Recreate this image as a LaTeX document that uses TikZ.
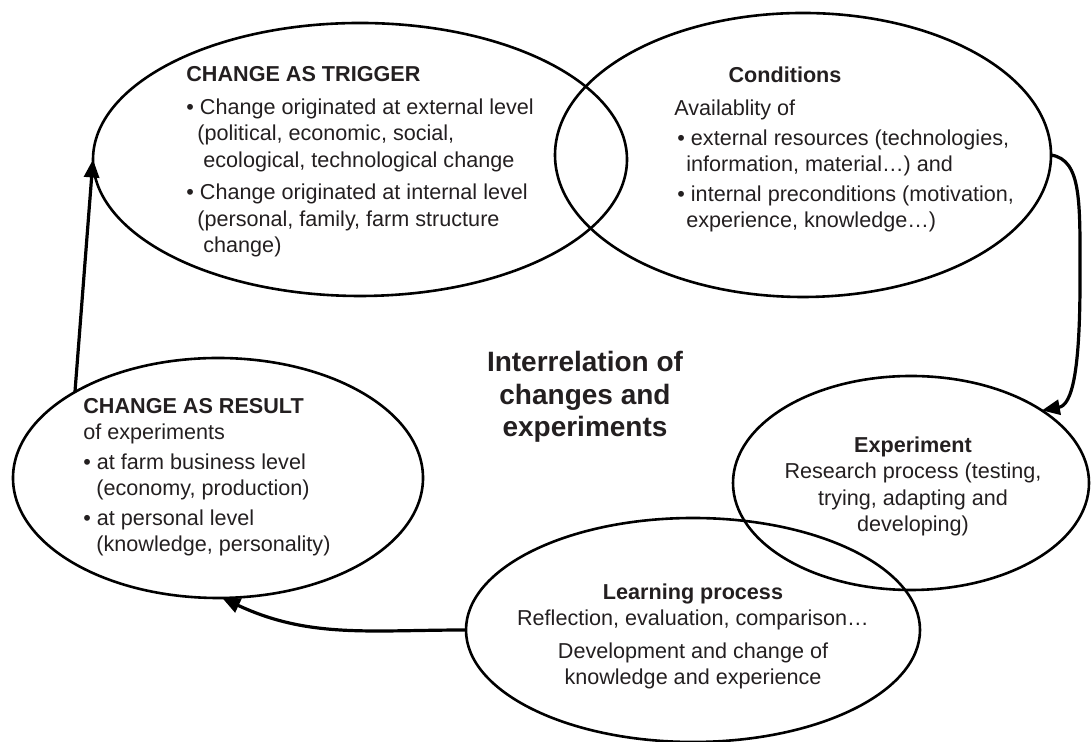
\documentclass[tikz,border=0pt]{standalone}
\usepackage{fontspec}
\setmainfont{Liberation Sans}
\usepackage{xcolor}
\usetikzlibrary{arrows.meta, shapes.geometric}

\definecolor{inktxt}{HTML}{231F20}
\newcommand{\bul}{\textbullet\ }

\tikzset{
	bubble/.style = {draw, ellipse, line width = 1.3pt, inner sep = 0pt, outer sep = 0pt},
	txt/.style = {font = \fontsize{10.8pt}{13.25pt}\selectfont, text = inktxt, inner sep = 0pt},
	flow/.style = {-{Triangle[length = 9pt, width = 7.5pt]}, line width = 1.6pt},
}

\begin{document}
\begin{tikzpicture}[x = 0.5pt, y = 0.5pt]
		\useasboundingbox (0,0) rectangle (1091,742);
		\node[bubble, minimum width = 267pt, minimum height = 136.5pt] (trigger) at (360,582.5) {};
		\node[bubble, minimum width = 248pt, minimum height = 142pt] (cond) at (803,587) {};
		\node[bubble, minimum width = 205pt, minimum height = 120pt] (result) at (218,264) {};
		\node[bubble, minimum width = 178pt, minimum height = 107pt] (exper) at (911,259) {};
		\node[bubble, minimum width = 227pt, minimum height = 112pt] (learn) at (693,112) {};
		% text blocks hang on the baseline of their last line
		\node[txt, align = left, anchor = base west] (triggertxt) at (186,489) {{\bfseries CHANGE AS TRIGGER}\\[3.25pt]
			\bul Change originated at external level\\
			\hspace*{5.5pt}(political, economic, social,\\
			\hspace*{8.5pt}ecological, technological change\\[3pt]
			\bul Change originated at internal level\\
			\hspace*{5.5pt}(personal, family, farm structure\\
			\hspace*{8.5pt}change)};
		\node[txt, anchor = base, font = \fontsize{10.8pt}{13.25pt}\selectfont\bfseries] (condhead) at (785,659) {Conditions};
		\node[txt, align = left, anchor = base west] (condtxt) at (674,514) {Availablity of\\[1.5pt]
			\hspace*{1.5pt}\bul external resources (technologies,\\
			\hspace*{6pt}information, material…) and\\[1.5pt]
			\hspace*{1.5pt}\bul internal preconditions (motivation,\\
			\hspace*{6pt}experience, knowledge…)};
		\node[txt, align = left, anchor = base west] (resulttxt) at (83,190) {{\bfseries CHANGE AS RESULT}\\
			of experiments\\[1.5pt]
			\bul at farm business level\\
			\hspace*{6.5pt}(economy, production)\\[1.5pt]
			\bul at personal level\\
			\hspace*{6.5pt}(knowledge, personality)};
		\node[txt, align = center, anchor = base] (expertxt) at (913,210) {{\bfseries Experiment}\\
			Research process (testing,\\trying, adapting and\\developing)};
		\node[txt, align = center, anchor = base] (learntxt) at (693,57) {{\bfseries Learning process}\\
			Reflection, evaluation, comparison…\\[3pt]
			Development and change of\\knowledge and experience};
		\node[txt, align = center, anchor = base, font = \fontsize{14pt}{16.25pt}\selectfont\bfseries] (title) at (585,305) {Interrelation of\\changes and\\experiments};
		% the cycle
		\draw[flow] (cond.east) .. controls (1082,582) and (1080,540) .. (1080,462) .. controls (1080,370) and (1072,337) .. (exper.29);
		\draw[flow] (learn.west) to[out = 180, in = -25] (result.-88);
		\draw[flow] (result.149) -- (trigger.west);
	\end{tikzpicture}
\end{document}
